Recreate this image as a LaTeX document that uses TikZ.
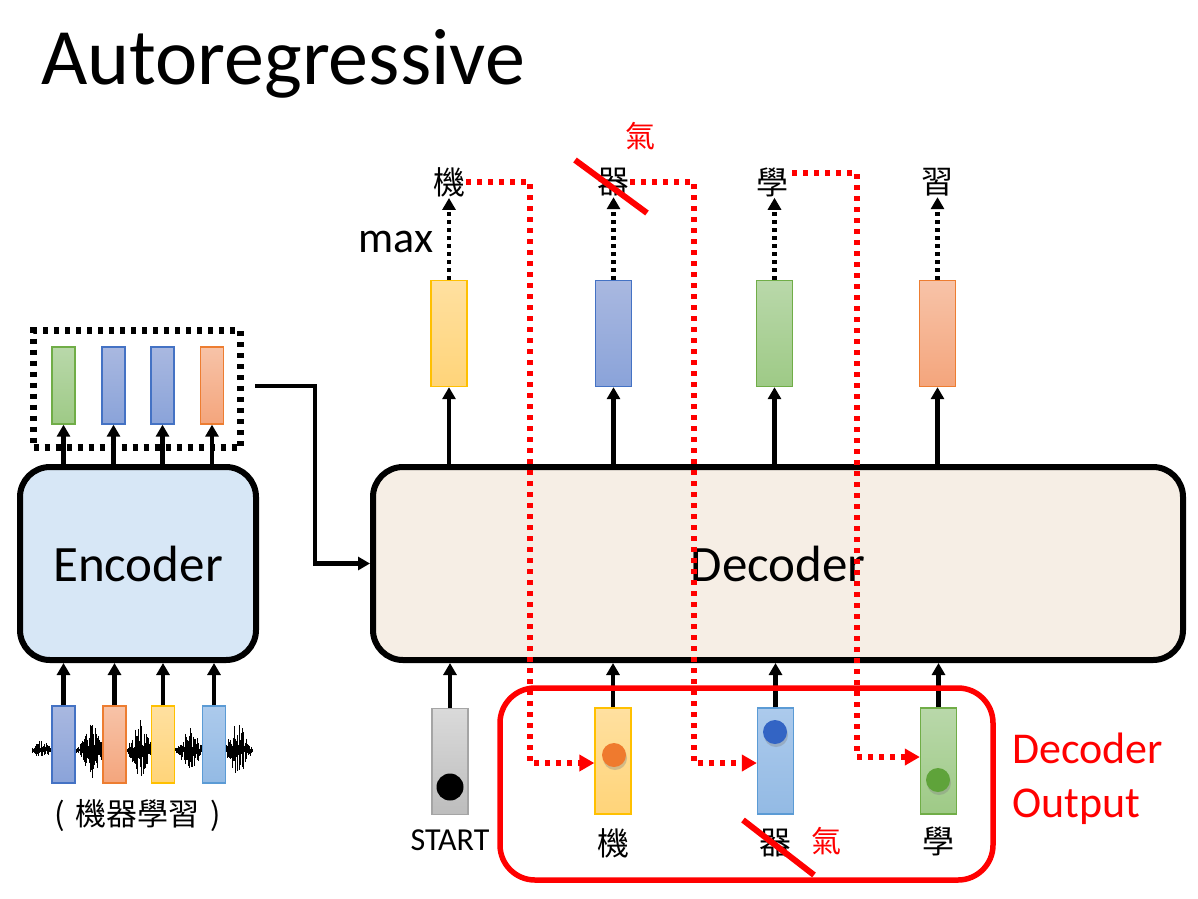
\documentclass[tikz,border=0pt]{standalone}
\usepackage{fontspec}
\setmainfont{Carlito}
\newfontfamily\cjk{Noto Sans CJK TC}
\usetikzlibrary{arrows.meta,shadows,calc}
\definecolor{ylwT}{HTML}{FFE0A0}\definecolor{ylwB}{HTML}{FFD479}\definecolor{ylwD}{HTML}{FFC000}
\definecolor{bluT}{HTML}{A9B8E0}\definecolor{bluB}{HTML}{8AA3D9}\definecolor{bluD}{HTML}{4472C4}
\definecolor{grnT}{HTML}{B9D8AA}\definecolor{grnB}{HTML}{9ECA86}\definecolor{grnD}{HTML}{70AD47}
\definecolor{orgT}{HTML}{F7C3A8}\definecolor{orgB}{HTML}{F4A57C}\definecolor{orgD}{HTML}{ED7D31}
\definecolor{lblT}{HTML}{ACCAEC}\definecolor{lblB}{HTML}{93BAE4}\definecolor{lblD}{HTML}{5B9BD5}
\definecolor{gryT}{HTML}{DADADA}\definecolor{gryB}{HTML}{BDBDBD}\definecolor{gryD}{HTML}{A5A5A5}
\definecolor{encfill}{HTML}{D7E7F6}
\definecolor{decfill}{HTML}{F6EEE5}
\definecolor{pred}{HTML}{FF0000}
\definecolor{dotorg}{HTML}{EF7A2E}
\definecolor{dotblu}{HTML}{3364C4}
\definecolor{dotgrn}{HTML}{5FA33A}
\begin{document}
\begin{tikzpicture}[x=1pt,y=-1pt,
  bigbox/.style={draw=black, line width=6pt, rounded corners=30pt, inner sep=0pt},
  vec/.style={draw, line width=1.3pt, inner sep=0pt},
  smallvec/.style={vec, minimum width=23pt, minimum height=77pt},
  bigvec/.style={vec, minimum width=36pt, minimum height=106pt},
  vyel/.style={top color=ylwT, bottom color=ylwB, draw=ylwD},
  vblu/.style={top color=bluT, bottom color=bluB, draw=bluD},
  vgrn/.style={top color=grnT, bottom color=grnB, draw=grnD},
  vorg/.style={top color=orgT, bottom color=orgB, draw=orgD},
  vlbl/.style={top color=lblT, bottom color=lblB, draw=lblD},
  vgry/.style={top color=gryT, bottom color=gryB, draw=gryD},
  arr/.style={line width=4.5pt, -{Triangle[length=12pt,width=13pt]}},
  dotarr/.style={line width=4.5pt, dash pattern=on 4pt off 4pt, -{Triangle[length=12pt,width=13pt]}},
  reddot/.style={draw=pred, line width=6pt, dash pattern=on 5pt off 6pt, -{Triangle[length=15pt,width=16pt]}, color=pred},
  redline/.style={draw=pred, line width=6pt},
  zh/.style={font=\cjk\fontsize{32}{38}\selectfont, inner sep=1pt},
  ball/.style={circle, inner sep=0pt, minimum size=24pt, drop shadow={shadow xshift=1pt, shadow yshift=-3pt, opacity=0.35}}
]
\useasboundingbox (0,0) rectangle (1198,898);
\fill[white] (0,0) rectangle (1198,898);

% title
\node[anchor=base west, inner sep=0pt, font=\fontsize{80}{96}\selectfont] (title) at (41,84) {Autoregressive};

% encoder / decoder
\node[bigbox, fill=encfill, minimum width=236pt, minimum height=193pt, font=\fontsize{51}{60}\selectfont] (enc) at (138,563.5) {Encoder};
\node[bigbox, fill=decfill, minimum width=810pt, minimum height=193pt, font=\fontsize{51}{60}\selectfont] (dec) at (778,563.5) {Decoder};

% encoder outputs
\node[smallvec, vgrn] (eo1) at (63.5,385.5) {};
\node[smallvec, vblu] (eo2) at (113.5,385.5) {};
\node[smallvec, vblu] (eo3) at (162.5,385.5) {};
\node[smallvec, vorg] (eo4) at (212,385.5) {};
\node[draw, line width=6.5pt, dash pattern=on 5pt off 6pt, minimum width=207pt, minimum height=117pt, inner sep=0pt] (ebox) at (137,389) {};
\foreach \i in {1,...,4}{\draw[arr] (eo\i.south |- enc.north) -- (eo\i.south);}

% waveform
\pgfmathsetseed{11}
\draw[line width=2.5pt] (32,750) -- (253,750);
\foreach \x in {32,32.6,...,253}{
  \pgfmathsetmacro\env{3+8*max(0,1-abs(\x-42)/10)+26*max(0,1-abs(\x-92)/14)+27*max(0,1-abs(\x-140)/13)+21*max(0,1-abs(\x-190)/13)+27*max(0,1-abs(\x-238)/14)}
  \pgfmathsetmacro\ha{\env*(0.1+0.9*rnd)}
  \pgfmathsetmacro\hb{\env*(0.1+0.9*rnd)}
  \draw[line width=0.9pt] (\x,750-\ha) -- (\x,750+\hb);
}

% encoder inputs
\node[smallvec, vblu] (ei1) at (63.5,744.5) {};
\node[smallvec, vorg] (ei2) at (114.5,744.5) {};
\node[smallvec, vyel] (ei3) at (163,744.5) {};
\node[smallvec, vlbl] (ei4) at (214,744.5) {};
\foreach \i in {1,...,4}{\draw[arr] (ei\i.north) -- (ei\i.north |- enc.south);}
\node[zh, font=\cjk\fontsize{31}{36}\selectfont] (inlab) at (138,815) {(\hspace{11pt}機器學習\hspace{11pt})};

% encoder -> decoder
\coordinate (c1) at (255,386);
\draw[arr] (c1) -- ++(60,0) |- (dec.west);

% decoder outputs
\node[bigvec, vyel] (do1) at (449,333.5) {};
\node[bigvec, vblu] (do2) at (613.5,333.5) {};
\node[bigvec, vgrn] (do3) at (774.5,333.5) {};
\node[bigvec, vorg] (do4) at (937.5,333.5) {};
\foreach \i in {1,...,4}{\draw[arr] (do\i.south |- dec.north) -- (do\i.south);}

% output characters
\node[zh] (ch1) at (449,182) {機};
\node[zh] (ch2) at (613,182) {器};
\node[zh] (ch3) at (772,182) {學};
\node[zh] (ch4) at (937,182) {習};
\foreach \i in {1,...,4}{\draw[dotarr] (do\i.north) -- (do\i.north |- ch\i.south);}
\node[font=\fontsize{44}{52}\selectfont, inner sep=0pt] (max) at (396,242) {max};
\node[zh, text=pred, font=\cjk\fontsize{30}{36}\selectfont] (qi1) at (640,136) {氣};
\draw[redline] ($(ch2)+(-38,-22)$) -- ($(ch2)+(34,31)$);

% decoder inputs
\node[bigvec, vgry] (di1) at (450,761.5) {};
\node[bigvec, vyel] (di2) at (613,761) {};
\node[bigvec, vlbl] (di3) at (775.5,761) {};
\node[bigvec, vgrn] (di4) at (938.5,761) {};
\foreach \i in {1,...,4}{\draw[arr] (di\i.north) -- (di\i.north |- dec.south);}
\node[circle, fill=black, inner sep=0pt, minimum size=27pt] (b1) at (450,787) {};
\node[ball, fill=dotorg] (b2) at (614,755) {};
\node[ball, fill=dotblu] (b3) at (775,732) {};
\node[ball, fill=dotgrn] (b4) at (938,780) {};

% decoder output box
\node[draw=pred, line width=5.5pt, rounded corners=35pt, minimum width=493pt, minimum height=192pt, inner sep=0pt] (dout) at (746.5,784) {};
\node[anchor=west, align=left, text=pred, inner sep=0pt, font=\fontsize{44}{54}\selectfont] (doutlab) at (1012,779) {Decoder\\Output};

% labels under decoder inputs
\node[font=\fontsize{32}{38}\selectfont, inner sep=1pt] (st) at (450,840) {START};
\node[zh] (l2) at (613,843) {機};
\node[zh] (l3) at (775,843) {器};
\node[zh, text=pred, font=\cjk\fontsize{30}{36}\selectfont] (qi2) at (826,841) {氣};
\node[zh] (l4) at (938,841) {學};
\draw[redline] ($(l3)+(-32,-23)$) -- ($(l3)+(39,32)$);

% red dotted feedback paths
\coordinate (r1) at (530,763);
\coordinate (r2) at (694,763);
\coordinate (r3) at (857,757);
\draw[reddot] (ch1.east) -| (r1) -- (r1 -| di2.west);
\draw[reddot] (ch2.east) -| (r2) -- (r2 -| di3.west);
\draw[reddot] ($(ch3.east)+(3,-9)$) -| (r3) -- (r3 -| di4.west);
\end{tikzpicture}
\end{document}
